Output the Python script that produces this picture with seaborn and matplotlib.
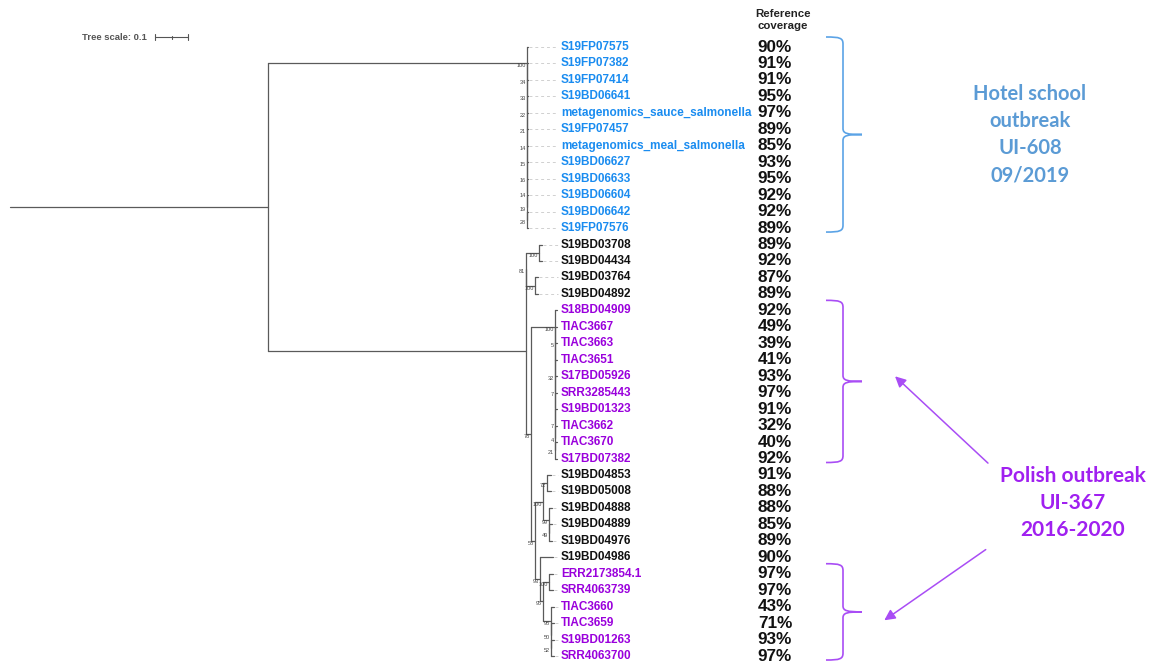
import matplotlib
matplotlib.use('Agg')
import matplotlib.pyplot as plt
import seaborn as sns
import pandas as pd
from matplotlib.path import Path
from matplotlib.patches import PathPatch

sns.set_theme(style="white")
plt.rcParams['font.family'] = ['Liberation Sans', 'DejaVu Sans']

# --- data ---
leaves = [
    'S19FP07575', 'S19FP07382', 'S19FP07414', 'S19BD06641',
    'metagenomics_sauce_salmonella', 'S19FP07457', 'metagenomics_meal_salmonella',
    'S19BD06627', 'S19BD06633', 'S19BD06604', 'S19BD06642', 'S19FP07576',
    'S19BD03708', 'S19BD04434', 'S19BD03764', 'S19BD04892',
    'S18BD04909', 'TIAC3667', 'TIAC3663', 'TIAC3651', 'S17BD05926',
    'SRR3285443', 'S19BD01323', 'TIAC3662', 'TIAC3670', 'S17BD07382',
    'S19BD04853', 'S19BD05008', 'S19BD04888', 'S19BD04889', 'S19BD04976',
    'S19BD04986', 'ERR2173854.1', 'SRR4063739', 'TIAC3660', 'TIAC3659',
    'S19BD01263', 'SRR4063700',
]
coverage = [90, 91, 91, 95, 97, 89, 85, 93, 95, 92, 92, 89,
            89, 92, 87, 89,
            92, 49, 39, 41, 93, 97, 91, 32, 40, 92,
            91, 88, 88, 85, 89, 90,
            97, 97, 43, 71, 93, 97]
leaf_group = (['hotel'] * 12 + ['other'] * 4 + ['polish'] * 10
              + ['other'] * 6 + ['polish'] * 6)

# tree topology, branch lengths and bootstrap support
tree_newick = (
    "((S19FP07575:0.003,(S19FP07382:0.003,(S19FP07414:0.003,(S19BD06641:0.003,"
    "(metagenomics_sauce_salmonella:0.003,(S19FP07457:0.003,(metagenomics_meal_salmonella:0.003,"
    "(S19BD06627:0.003,(S19BD06633:0.003,(S19BD06604:0.003,(S19BD06642:0.003,S19FP07576:0.003)28:0)"
    "19:0)14:0)16:0)15:0)14:0)21:0)22:0)33:0)34:0)100:0.785,"
    "(((S19BD03708:0.009,S19BD04434:0.009)100:0.039,(S19BD03764:0.009,S19BD04892:0.009)100:0.027)81:0,"
    "((S18BD04909:0.006,(TIAC3667:0.006,(TIAC3663:0.006,(TIAC3651:0.006,(S17BD05926:0.006,"
    "(SRR3285443:0.006,(S19BD01323:0.006,(TIAC3662:0.006,(TIAC3670:0.006,S17BD07382:0.006)21:0)"
    "4:0)7:0):0)7:0)32:0):0)5:0)100:0.073,"
    "(((S19BD04853:0.012,S19BD05008:0.012)72:0.012,(S19BD04888:0.009,(S19BD04889:0.009,"
    "S19BD04976:0.009)49:0)99:0.018)100:0.024,"
    "(S19BD04986:0.039,((ERR2173854.1:0.012,SRR4063739:0.012)100:0.018,(TIAC3660:0.009,"
    "(TIAC3659:0.009,(S19BD01263:0.009,SRR4063700:0.009)52:0)50:0)98:0.024)95:0.009)93:0.015)"
    "58:0.012)78:0.015):0.782):0.782;"
)

# outbreak brackets: (group, first leaf, last leaf)
bracket_group = ['hotel', 'polish', 'polish']
bracket_first = [0, 16, 32]
bracket_last = [11, 25, 37]

hotel_text = "Hotel school\noutbreak\nUI-608\n09/2019"
polish_text = "Polish outbreak\nUI-367\n2016-2020"

label_colour = {'hotel': '#1a8cf0', 'polish': '#9a00dc', 'other': '#111111'}
bracket_colour = {'hotel': '#5ba3e6', 'polish': '#a94df5'}

# --- layout constants (pixel space) ---
PX_PER_UNIT = 330
ROOT_X = 10
FIRST_Y = 47
STEP_Y = 16.46
LABEL_X = 561
COV_X = 775
leaf_y = [FIRST_Y + i * STEP_Y for i in range(len(leaves))]


def parse_newick(s):
    pos = 0

    def node():
        nonlocal pos
        n = {'children': [], 'name': '', 'length': 0.0}
        if s[pos] == '(':
            pos += 1
            n['children'].append(node())
            while s[pos] == ',':
                pos += 1
                n['children'].append(node())
            pos += 1
        start = pos
        while s[pos] not in ',():;':
            pos += 1
        n['name'] = s[start:pos]
        if s[pos] == ':':
            pos += 1
            start = pos
            while s[pos] not in ',();':
                pos += 1
            n['length'] = float(s[start:pos])
        return n

    return node()


def layout(n, x0):
    n['x'] = x0 + n['length'] * PX_PER_UNIT
    if n['children']:
        for c in n['children']:
            layout(c, n['x'])
        n['y'] = (n['children'][0]['y'] + n['children'][-1]['y']) / 2
    else:
        n['y'] = leaf_y[leaves.index(n['name'])]


root = parse_newick(tree_newick)
layout(root, ROOT_X)

rows = []
tips = []
supports = []


def collect(n, parent_x):
    seg = len(rows)
    rows.append((seg, parent_x, n['y']))
    rows.append((seg, n['x'], n['y']))
    if n['children']:
        seg = len(rows)
        rows.append((seg, n['x'], n['children'][0]['y']))
        rows.append((seg, n['x'], n['children'][-1]['y']))
        if n['name']:
            supports.append((n['x'], n['y'], n['name']))
        for c in n['children']:
            collect(c, n['x'])
    else:
        tips.append((n['x'], n['y']))


collect(root, ROOT_X)
seg_df = pd.DataFrame(rows, columns=['seg', 'x', 'y'])

fig = plt.figure(figsize=(11.53, 6.63), dpi=100)
ax = fig.add_axes([0, 0, 1, 1])

sns.lineplot(data=seg_df, x='x', y='y', units='seg', estimator=None, sort=False,
             color='#5a5a5a', linewidth=0.9, ax=ax, legend=False)

# dashed leaders from tips to labels
for tx, ty in tips:
    ax.plot([tx + 1, LABEL_X - 3], [ty, ty], color='#d0d0d0', lw=0.7,
            ls=(0, (3, 3)), zorder=1)

for sx, sy, s in supports:
    ax.text(sx - 1, sy + 2.5, s, fontsize=4, color='#444444', ha='right', va='center')

for name, y, cov, grp in zip(leaves, leaf_y, coverage, leaf_group):
    ax.text(LABEL_X, y, name, fontsize=8.5, fontweight='bold', color=label_colour[grp],
            ha='left', va='center')
    ax.text(COV_X, y, f"{cov}%", fontsize=12.3, fontweight='bold', color='#111111',
            ha='center', va='center')

ax.text(783, 20, "Reference\ncoverage", fontsize=8.2, fontweight='bold', color='#222222',
        ha='center', va='center', linespacing=1.2)

# tree scale
sb_x0, sb_y = 155, 37
sb_x1 = sb_x0 + 0.1 * PX_PER_UNIT
ax.text(82, sb_y, "Tree scale: 0.1", fontsize=6.8, fontweight='bold', color='#555555',
        ha='left', va='center')
ax.plot([sb_x0, sb_x1], [sb_y, sb_y], color='#555555', lw=0.8)
for xx, h in [(sb_x0, 3), ((sb_x0 + sb_x1) / 2, 1.5), (sb_x1, 3)]:
    ax.plot([xx, xx], [sb_y - h, sb_y + h], color='#555555', lw=0.8)


def brace(y0, y1, colour, x0=826, xv=843, xt=862):
    ym = (y0 + y1) / 2
    verts = [(x0, y0), (xv - 3, y0), (xv, y0 + 1), (xv, y0 + 7),
             (xv, ym - 6),
             (xv, ym - 1), (xv + 4, ym), (xt, ym),
             (xv + 4, ym), (xv, ym + 1), (xv, ym + 6),
             (xv, y1 - 7),
             (xv, y1 - 1), (xv - 3, y1), (x0, y1)]
    codes = ([Path.MOVETO] + [Path.CURVE4] * 3 + [Path.LINETO] + [Path.CURVE4] * 6
             + [Path.LINETO] + [Path.CURVE4] * 3)
    ax.add_patch(PathPatch(Path(verts, codes), fill=False, edgecolor=colour, lw=1.2))
    return xt, ym


tips_b = []
for grp, a, b in zip(bracket_group, bracket_first, bracket_last):
    tips_b.append(brace(leaf_y[a] - 10, leaf_y[b] + 4, bracket_colour[grp]))

ax.text(1030, tips_b[0][1], hotel_text, fontsize=14.5, fontweight='bold', family='Lato',
        color='#5b9bd5', ha='center', va='center', linespacing=1.45)
ax.text(1073, 503, polish_text, fontsize=15, fontweight='bold', family='Lato',
        color='#a020f0', ha='center', va='center', linespacing=1.45)

arrow = dict(arrowstyle='-|>', color='#a94df5', lw=1.1, mutation_scale=16)
ax.annotate('', xy=(tips_b[1][0] + 31, tips_b[1][1] - 7), xytext=(990, 465), arrowprops=arrow)
ax.annotate('', xy=(tips_b[2][0] + 20, tips_b[2][1] + 10), xytext=(988, 548), arrowprops=arrow)

ax.set_xlim(0, 1153)
ax.set_ylim(663, 0)
ax.axis('off')

fig.savefig('out.png', dpi=100)
